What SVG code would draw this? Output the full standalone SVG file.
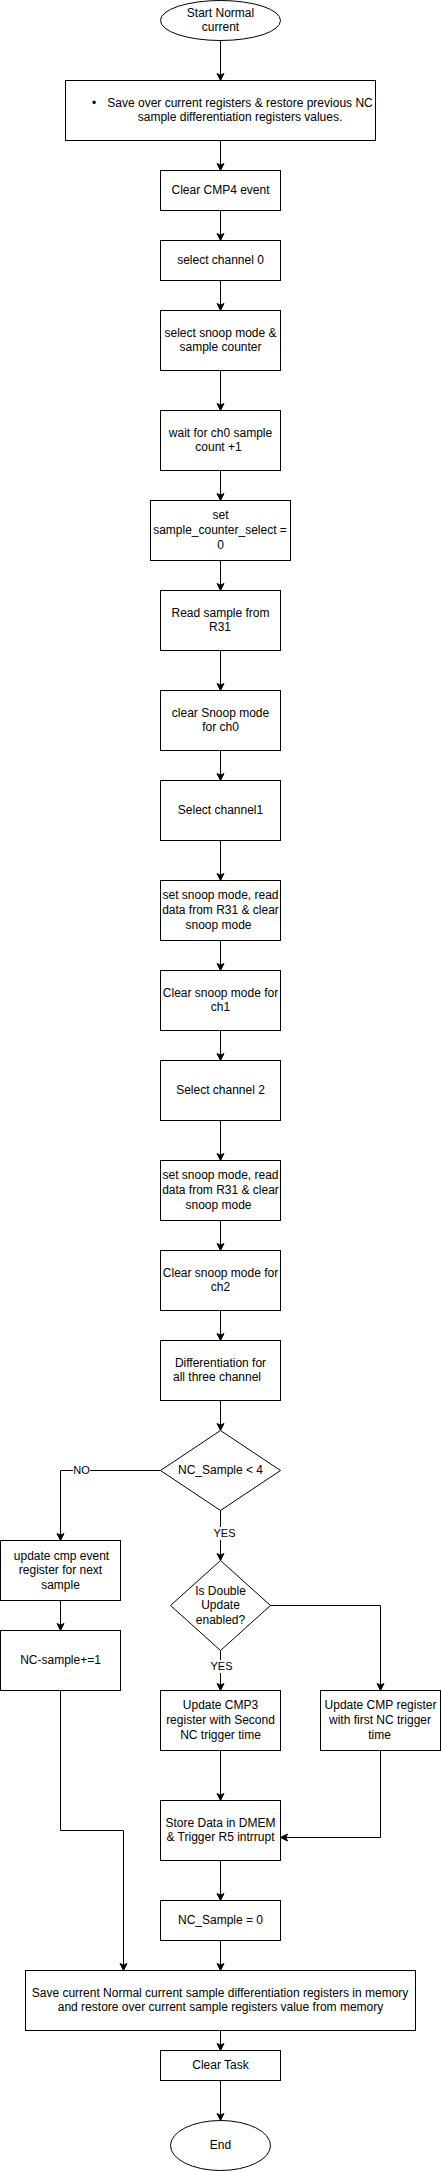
<svg xmlns="http://www.w3.org/2000/svg" width="441" height="2171" viewBox="0 0 441 2171">
<style>
.n{fill:#ffffff;stroke:#000000;stroke-width:1}
.t{font-family:"Liberation Sans",Arial,Helvetica,sans-serif;font-size:12px;fill:#000000;text-anchor:middle}
.l{font-family:"Liberation Sans",Arial,Helvetica,sans-serif;font-size:11px;fill:#000000;text-anchor:middle}
.c{fill:none;stroke:#000000;stroke-width:1}
</style>
<defs>
<marker id="arr" viewBox="-9 -6 12 12" refX="0" refY="0" markerWidth="12" markerHeight="12" markerUnits="userSpaceOnUse" orient="auto">
<path d="M0,0 L-7,-3.5 L-5.25,0 L-7,3.5 Z" fill="#000000" stroke="#000000" stroke-width="1"/>
</marker>
</defs>
<rect width="441" height="2171" fill="#ffffff"/>
<g id="connectors">
<path class="c" marker-end="url(#arr)" d="M220.5,40.5 V80.5"/>
<path class="c" marker-end="url(#arr)" d="M220.5,140.5 V170.5"/>
<path class="c" marker-end="url(#arr)" d="M220.5,210.5 V240.5"/>
<path class="c" marker-end="url(#arr)" d="M220.5,280.5 V310.5"/>
<path class="c" marker-end="url(#arr)" d="M220.5,370.5 V410.5"/>
<path class="c" marker-end="url(#arr)" d="M220.5,470.5 V500.5"/>
<path class="c" marker-end="url(#arr)" d="M220.5,560.5 V590.5"/>
<path class="c" marker-end="url(#arr)" d="M220.5,650.5 V690.5"/>
<path class="c" marker-end="url(#arr)" d="M220.5,750.5 V780.5"/>
<path class="c" marker-end="url(#arr)" d="M220.5,840.5 V880.5"/>
<path class="c" marker-end="url(#arr)" d="M220.5,940.5 V970.5"/>
<path class="c" marker-end="url(#arr)" d="M220.5,1030.5 V1060.5"/>
<path class="c" marker-end="url(#arr)" d="M220.5,1120.5 V1160.5"/>
<path class="c" marker-end="url(#arr)" d="M220.5,1220.5 V1250.5"/>
<path class="c" marker-end="url(#arr)" d="M220.5,1310.5 V1340.5"/>
<path class="c" marker-end="url(#arr)" d="M220.5,1400.5 V1430.5"/>
<path class="c" marker-end="url(#arr)" d="M160.5,1470.5 H60.5 V1540.5"/>
<path class="c" marker-end="url(#arr)" d="M220.5,1510.5 V1560.5"/>
<path class="c" marker-end="url(#arr)" d="M270.5,1605.5 H380.5 V1690.5"/>
<path class="c" marker-end="url(#arr)" d="M220.5,1650.5 V1690.5"/>
<path class="c" marker-end="url(#arr)" d="M60.5,1600.5 V1630.5"/>
<path class="c" marker-end="url(#arr)" d="M220.5,1750.5 V1800.5"/>
<path class="c" marker-end="url(#arr)" d="M380.5,1750.5 V1837.5 H280.5"/>
<path class="c" marker-end="url(#arr)" d="M60.5,1690.5 V1830.5 H123.5 V1970.5"/>
<path class="c" marker-end="url(#arr)" d="M220.5,1860.5 V1900.5"/>
<path class="c" marker-end="url(#arr)" d="M220.5,1940.5 V1970.5"/>
<path class="c" marker-end="url(#arr)" d="M220.5,2030.5 V2050.5"/>
<path class="c" marker-end="url(#arr)" d="M220.5,2080.5 V2120.5"/>
<rect x="73" y="1464" width="17" height="13" fill="#ffffff"/>
<text class="l" x="81.5" y="1474.3">NO</text>
<rect x="212" y="1527" width="25" height="13" fill="#ffffff"/>
<text class="l" x="224.5" y="1537.3">YES</text>
<rect x="209" y="1660" width="25" height="13" fill="#ffffff"/>
<text class="l" x="221.5" y="1670">YES</text>
</g>
<g id="start"><ellipse class="n" cx="220.5" cy="20.5" rx="60" ry="20"/><text class="t" x="220.5" y="16.6">Start Normal</text><text class="t" x="220.5" y="31.4">current</text></g>
<g id="save-oc"><rect class="n" x="65.5" y="80.5" width="310" height="60"/><text class="t" x="94" y="106.6">•</text><text class="t" x="240" y="106.6">Save over current registers &amp; restore previous NC</text><text class="t" x="240" y="121.4">sample differentiation registers values.</text></g>
<g id="clear-cmp4"><rect class="n" x="160.5" y="170.5" width="120" height="40"/><text class="t" x="220.5" y="194">Clear CMP4 event</text></g>
<g id="sel-ch0"><rect class="n" x="160.5" y="240.5" width="120" height="40"/><text class="t" x="220.5" y="264">select channel 0</text></g>
<g id="sel-snoop"><rect class="n" x="160.5" y="310.5" width="120" height="60"/><text class="t" x="220.5" y="336.6">select snoop mode &amp;</text><text class="t" x="220.5" y="351.4">sample counter</text></g>
<g id="wait"><rect class="n" x="160.5" y="410.5" width="120" height="60"/><text class="t" x="220.5" y="436.6">wait for ch0 sample</text><text class="t" x="218.5" y="451.4">count +1</text></g>
<g id="set-scs"><rect class="n" x="150.5" y="500.5" width="140" height="60"/><text class="t" x="220.5" y="519.2">set</text><text class="t" x="220" y="534">sample_counter_select =</text><text class="t" x="220.5" y="548.8">0</text></g>
<g id="read-r31"><rect class="n" x="160.5" y="590.5" width="120" height="60"/><text class="t" x="220.5" y="616.6">Read sample from</text><text class="t" x="220" y="631.4">R31</text></g>
<g id="clear-ch0"><rect class="n" x="160.5" y="690.5" width="120" height="60"/><text class="t" x="220.5" y="716.6">clear Snoop mode</text><text class="t" x="220.5" y="731.4">for ch0</text></g>
<g id="sel-ch1"><rect class="n" x="160.5" y="780.5" width="120" height="60"/><text class="t" x="220.5" y="814">Select channel1</text></g>
<g id="snoop-ch1"><rect class="n" x="160.5" y="880.5" width="120" height="60"/><text class="t" x="220.5" y="899.2">set snoop mode, read</text><text class="t" x="220.5" y="914">data from R31 &amp; clear</text><text class="t" x="218.5" y="928.8">snoop mode</text></g>
<g id="clear-ch1"><rect class="n" x="160.5" y="970.5" width="120" height="60"/><text class="t" x="220.5" y="996.6">Clear snoop mode for</text><text class="t" x="220.5" y="1011.4">ch1</text></g>
<g id="sel-ch2"><rect class="n" x="160.5" y="1060.5" width="120" height="60"/><text class="t" x="220.5" y="1094">Select channel 2</text></g>
<g id="snoop-ch2"><rect class="n" x="160.5" y="1160.5" width="120" height="60"/><text class="t" x="220.5" y="1179.2">set snoop mode, read</text><text class="t" x="220.5" y="1194">data from R31 &amp; clear</text><text class="t" x="218.5" y="1208.8">snoop mode</text></g>
<g id="clear-ch2"><rect class="n" x="160.5" y="1250.5" width="120" height="60"/><text class="t" x="220.5" y="1276.6">Clear snoop mode for</text><text class="t" x="220.5" y="1291.4">ch2</text></g>
<g id="diff"><rect class="n" x="160.5" y="1340.5" width="120" height="60"/><text class="t" x="220.5" y="1366.6">Differentiation for</text><text class="t" x="217" y="1381.4">all three channel</text></g>
<g id="dec-nc"><path class="n" d="M220.5,1430.5 L280.5,1470.5 L220.5,1510.5 L160.5,1470.5 Z"/><text class="t" x="220.5" y="1474">NC_Sample &lt; 4</text></g>
<g id="upd-cmp-event"><rect class="n" x="0.5" y="1540.5" width="120" height="60"/><text class="t" x="61.5" y="1559.8">update cmp event</text><text class="t" x="60.5" y="1574.4">register for next</text><text class="t" x="60.5" y="1588.8">sample</text></g>
<g id="nc-inc"><rect class="n" x="0.5" y="1630.5" width="120" height="60"/><text class="t" x="60.5" y="1664">NC-sample+=1</text></g>
<g id="dec-double"><path class="n" d="M220.5,1560.5 L270.5,1605.5 L220.5,1650.5 L170.5,1605.5 Z"/><text class="t" x="220.5" y="1594.6">Is Double</text><text class="t" x="220.5" y="1609.3">Update</text><text class="t" x="220.5" y="1623.8">enabled?</text></g>
<g id="upd-cmp3"><rect class="n" x="160.5" y="1690.5" width="120" height="60"/><text class="t" x="220.5" y="1709.2">Update CMP3</text><text class="t" x="220.5" y="1724">register with Second</text><text class="t" x="220.5" y="1738.8">NC trigger time</text></g>
<g id="upd-cmp"><rect class="n" x="320.5" y="1690.5" width="120" height="60"/><text class="t" x="380.5" y="1709.2">Update CMP register</text><text class="t" x="380" y="1724">with first NC trigger</text><text class="t" x="379.5" y="1738.8">time</text></g>
<g id="store"><rect class="n" x="160.5" y="1800.5" width="120" height="60"/><text class="t" x="220.5" y="1826.6">Store Data in DMEM</text><text class="t" x="220.5" y="1841.4">&amp; Trigger R5 intrrupt</text></g>
<g id="nc-zero"><rect class="n" x="160.5" y="1900.5" width="120" height="40"/><text class="t" x="220.5" y="1924">NC_Sample = 0</text></g>
<g id="save-nc"><rect class="n" x="25.5" y="1970.5" width="390" height="60"/><text class="t" x="220" y="1996.6">Save current Normal current sample differentiation registers in memory</text><text class="t" x="220.5" y="2011.4">and restore over current sample registers value from memory</text></g>
<g id="clear-task"><rect class="n" x="160.5" y="2050.5" width="120" height="30"/><text class="t" x="220.5" y="2069">Clear Task</text></g>
<g id="end"><ellipse class="n" cx="220.5" cy="2145.5" rx="50" ry="25"/><text class="t" x="220.5" y="2149">End</text></g>
</svg>
